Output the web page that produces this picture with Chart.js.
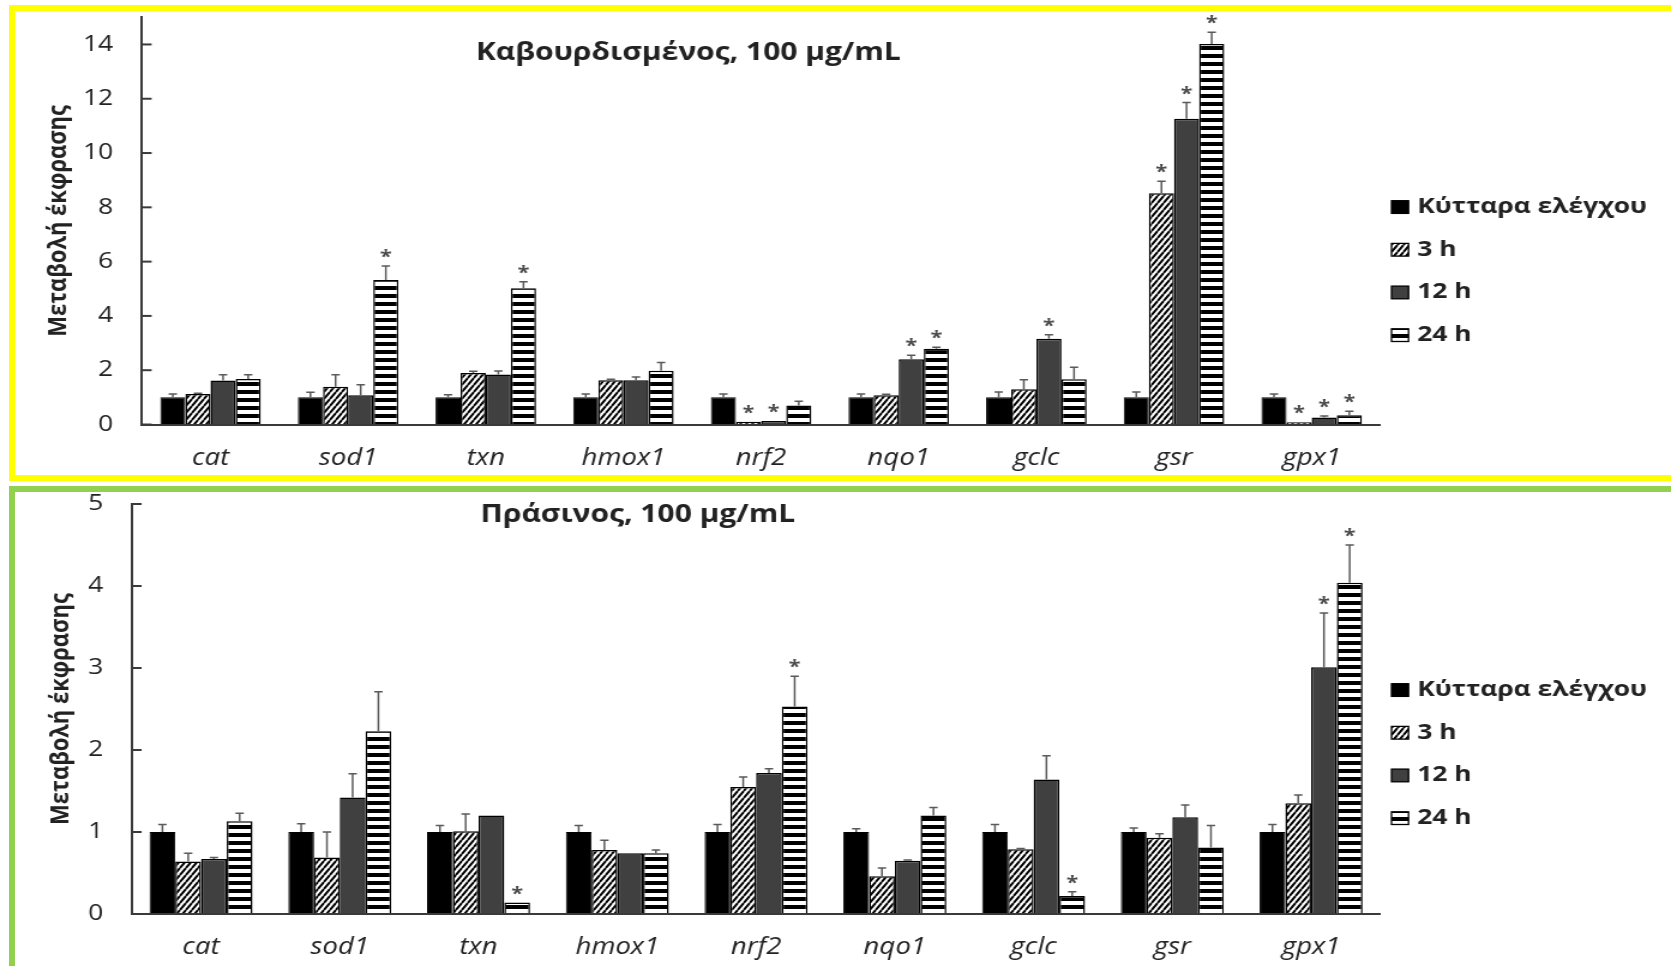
<!DOCTYPE html>
<html>
<head>
<meta charset="utf-8">
<script src="https://cdn.jsdelivr.net/npm/chart.js@4.4.1/dist/chart.umd.min.js"></script>
<style>
  html, body { margin: 0; padding: 0; background: #fff; overflow: hidden; }
  body { width: 1671px; height: 966px; position: relative; }
  canvas { position: absolute; left: 0; }
  .frame { position: absolute; box-sizing: border-box; pointer-events: none; }
</style>
</head>
<body>
<canvas id="roasted" width="1393" height="483" style="top:0;width:1671px;height:483px"></canvas>
<canvas id="green" width="1393" height="483" style="top:483px;width:1671px;height:483px"></canvas>
<div class="frame" style="left:9px;top:5px;width:1700px;height:476px;border:6px solid #ffff00"></div>
<div class="frame" style="left:9px;top:486px;width:1700px;height:500px;border:6px solid #92d050"></div>
<script>
const genes = ["cat", "sod1", "txn", "hmox1", "nrf2", "nqo1", "gclc", "gsr", "gpx1"];
const seriesLabels = ["Κύτταρα ελέγχου", "3 h", "12 h", "24 h"];

// Καβουρδισμένος, 100 μg/mL
const roastCtrl = [1, 1, 1, 1, 1, 1, 1, 1, 1];
const roast3h = [1.12, 1.39, 1.9, 1.63, 0.1, 1.08, 1.3, 8.52, 0.08];
const roast12h = [1.62, 1.08, 1.84, 1.63, 0.13, 2.4, 3.16, 11.26, 0.26];
const roast24h = [1.68, 5.32, 5.02, 1.98, 0.7, 2.79, 1.67, 14.02, 0.34];
const roastErrCtrl = [0.12, 0.19, 0.1, 0.12, 0.12, 0.12, 0.2, 0.2, 0.12];
const roastErr3h = [0.03, 0.44, 0.06, 0.04, 0, 0.03, 0.35, 0.44, 0];
const roastErr12h = [0.21, 0.38, 0.13, 0.12, 0, 0.15, 0.15, 0.6, 0.05];
const roastErr24h = [0.15, 0.52, 0.24, 0.3, 0.16, 0.06, 0.44, 0.43, 0.15];
const roastStar3h = [0, 0, 0, 0, 1, 0, 0, 1, 1];
const roastStar12h = [0, 0, 0, 0, 1, 1, 1, 1, 1];
const roastStar24h = [0, 1, 1, 0, 0, 1, 0, 1, 1];
const roastTicks = [0, 2, 4, 6, 8, 10, 12, 14];

// Πράσινος, 100 μg/mL
const greenCtrl = [1, 1, 1, 1, 1, 1, 1, 1, 1];
const green3h = [0.64, 0.69, 1.01, 0.78, 1.55, 0.46, 0.79, 0.93, 1.35];
const green12h = [0.67, 1.42, 1.2, 0.74, 1.72, 0.65, 1.64, 1.18, 3.01];
const green24h = [1.13, 2.23, 0.14, 0.74, 2.53, 1.2, 0.22, 0.81, 4.04];
const greenErrCtrl = [0.09, 0.1, 0.08, 0.08, 0.09, 0.04, 0.09, 0.05, 0.09];
const greenErr3h = [0.1, 0.31, 0.21, 0.12, 0.12, 0.1, 0.01, 0.05, 0.1];
const greenErr12h = [0.02, 0.29, 0, 0, 0.05, 0.01, 0.29, 0.15, 0.66];
const greenErr24h = [0.1, 0.48, 0, 0.04, 0.37, 0.1, 0.05, 0.27, 0.46];
const greenStar12h = [0, 0, 0, 0, 0, 0, 0, 0, 1];
const greenStar24h = [0, 0, 1, 0, 1, 0, 1, 0, 1];
const greenTicks = [0, 1, 2, 3, 4, 5];

const FONT = "'Open Sans', 'DejaVu Sans', sans-serif";
const AXIS = "#3a3a3a";
const TEXT = "#222";

// fill patterns for 3 h (diagonal) and 24 h (horizontal stripes)
function hatch() {
  const c = document.createElement("canvas");
  c.width = 5; c.height = 7;
  const g = c.getContext("2d");
  g.fillStyle = "#fff"; g.fillRect(0, 0, 5, 7);
  g.strokeStyle = "#000"; g.lineWidth = 2;
  g.beginPath();
  for (const dx of [-5, 0, 5]) { g.moveTo(dx, 7); g.lineTo(dx + 5, 0); }
  g.stroke();
  return g.createPattern(c, "repeat");
}
function stripes() {
  const c = document.createElement("canvas");
  c.width = 2; c.height = 8;
  const g = c.getContext("2d");
  g.fillStyle = "#000"; g.fillRect(0, 0, 2, 8);
  g.fillStyle = "#fff"; g.fillRect(0, 2, 2, 4);
  return g.createPattern(c, "repeat");
}

const decor = {
  id: "decor",
  afterDatasetsDraw(chart, args, o) {
    const ctx = chart.ctx;
    const ys = chart.scales.y;
    ctx.save();
    chart.data.datasets.forEach((ds, di) => {
      chart.getDatasetMeta(di).data.forEach((bar, i) => {
        const err = o.errors[di][i];
        const top = ys.getPixelForValue(ds.data[i] + err);
        if (err > 0) {
          ctx.strokeStyle = "#5a5a5a";
          ctx.lineWidth = 1.5;
          ctx.beginPath();
          ctx.moveTo(bar.x, bar.y);
          ctx.lineTo(bar.x, top);
          ctx.moveTo(bar.x - 3.5, top);
          ctx.lineTo(bar.x + 3.5, top);
          ctx.stroke();
        }
        if (o.stars[di] && o.stars[di][i]) {
          ctx.fillStyle = "#4a4a4a";
          ctx.font = "bold 18px " + FONT;
          ctx.textAlign = "center";
          ctx.textBaseline = "alphabetic";
          ctx.fillText("*", bar.x, top - 3);
        }
      });
    });
    ctx.restore();
  },
  afterDraw(chart, args, o) {
    const ctx = chart.ctx;
    const ys = chart.scales.y;
    const left = chart.chartArea.left;
    ctx.save();
    // short inward tick marks
    ctx.strokeStyle = AXIS;
    ctx.lineWidth = 2;
    ys.ticks.forEach(t => {
      const p = ys.getPixelForValue(t.value);
      ctx.beginPath();
      ctx.moveTo(left, p);
      ctx.lineTo(left + 8.3, p);
      ctx.stroke();
    });
    // panel title
    ctx.fillStyle = TEXT;
    ctx.font = "bold 25px " + FONT;
    ctx.textAlign = "center";
    ctx.textBaseline = "alphabetic";
    ctx.fillText(o.title, o.titleX, o.titleY);
    // legend on the right
    ctx.textAlign = "left";
    ctx.font = "bold 22px " + FONT;
    chart.data.datasets.forEach((ds, di) => {
      const cy = o.legendY + di * 42.7;
      ctx.fillStyle = ds.backgroundColor;
      ctx.fillRect(o.legendX, cy - 6.3, 14.2, 12.7);
      ctx.strokeStyle = "#000";
      ctx.lineWidth = 1.3;
      ctx.strokeRect(o.legendX, cy - 6.3, 14.2, 12.7);
      ctx.fillStyle = TEXT;
      ctx.fillText(ds.label, o.legendX + 21.5, cy + 6);
    });
    ctx.restore();
  }
};

function makeChart(id, series, box) {
  const fills = ["#000", hatch(), "#404040", stripes()];
  new Chart(document.getElementById(id), {
    type: "bar",
    data: {
      labels: genes,
      datasets: series.values.map((vals, i) => ({
        label: seriesLabels[i],
        data: vals,
        backgroundColor: fills[i],
        borderColor: "#000",
        borderWidth: i === 0 ? 1 : 1.5,
        categoryPercentage: box.groupWidth,
        barPercentage: 1
      }))
    },
    options: {
      responsive: false,
      animation: false,
      layout: { padding: { left: 0, top: box.top, right: 1393 - 1150.8, bottom: 0 } },
      plugins: {
        legend: { display: false },
        tooltip: { enabled: false },
        decor: {
          errors: series.errors,
          stars: series.stars,
          title: series.title,
          titleX: box.titleX,
          titleY: box.titleY,
          legendX: 1160,
          legendY: 207
        }
      },
      scales: {
        x: {
          grid: { display: false, drawTicks: false },
          border: { color: AXIS, width: 2, z: 1 },
          ticks: { color: TEXT, padding: 20, font: { family: FONT, size: 23, style: "italic" } },
          afterFit: s => { s.height = box.xHeight; }
        },
        y: {
          min: 0,
          max: series.max,
          grid: { display: false, drawTicks: false },
          border: { color: AXIS, width: 2 },
          ticks: { color: TEXT, padding: 23.7, font: { family: FONT, size: 22 } },
          afterBuildTicks: s => { s.ticks = series.ticks.map(v => ({ value: v })); },
          title: {
            display: true,
            text: "Μεταβολή έκφρασης",
            color: TEXT,
            font: { family: FONT, size: 22, weight: "bold" },
            padding: { top: box.titlePad, bottom: 0 }
          },
          afterFit: s => {
            s.width = box.yWidth;
            s.paddingTop = 0;
            s.paddingBottom = 0;
          }
        }
      }
    },
    plugins: [decor]
  });
}

makeChart("roasted", {
  title: "Καβουρδισμένος, 100 μg/mL",
  values: [roastCtrl, roast3h, roast12h, roast24h],
  errors: [roastErrCtrl, roastErr3h, roastErr12h, roastErr24h],
  stars: [[], roastStar3h, roastStar12h, roastStar24h],
  max: 15,
  ticks: roastTicks
}, { top: 17.3, xHeight: 58.5, yWidth: 118.1, titlePad: 35.8, groupWidth: 0.73, titleX: 573.8, titleY: 60 });

makeChart("green", {
  title: "Πράσινος, 100 μg/mL",
  values: [greenCtrl, green3h, green12h, green24h],
  errors: [greenErrCtrl, greenErr3h, greenErr12h, greenErr24h],
  stars: [[], [], greenStar12h, greenStar24h],
  max: 5,
  ticks: greenTicks
}, { top: 21, xHeight: 52, yWidth: 109.75, titlePad: 38, groupWidth: 0.742, titleX: 531.7, titleY: 38.7 });
</script>
</body>
</html>
